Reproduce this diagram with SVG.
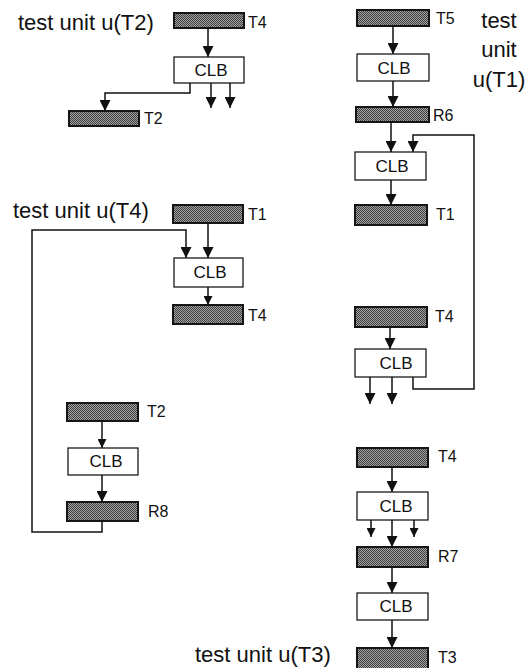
<svg xmlns="http://www.w3.org/2000/svg" width="529" height="668" viewBox="0 0 529 668">
<defs>
<pattern id="dots" width="2" height="2" patternUnits="userSpaceOnUse">
<rect width="2" height="2" fill="#a2a2a2"/>
<rect x="0" y="0" width="1" height="1" fill="#404040"/>
<rect x="1" y="1" width="1" height="1" fill="#404040"/>
</pattern>
<marker id="ah" viewBox="0 0 10 10" refX="10" refY="5" markerWidth="12" markerHeight="11" markerUnits="userSpaceOnUse" orient="auto">
<path d="M0,0 L10,5 L0,10 Z" fill="#111"/>
</marker>
<marker id="ahs" viewBox="0 0 10 10" refX="10" refY="5" markerWidth="11" markerHeight="9" markerUnits="userSpaceOnUse" orient="auto">
<path d="M0,0 L10,5 L0,10 Z" fill="#111"/>
</marker>
</defs>
<style>
.bar{fill:url(#dots);stroke:#151515;stroke-width:2}
.clb{fill:#fff;stroke:#1a1a1a;stroke-width:1.3}
.ct{font-family:"Liberation Sans",Arial,sans-serif;font-size:17px;fill:#111;text-anchor:middle}
.lb{font-family:"Liberation Sans",Arial,sans-serif;font-size:16px;fill:#111}
.tt{font-family:"Liberation Sans",Arial,sans-serif;font-size:22px;fill:#111}
.c line,.c path{fill:none;stroke:#111;stroke-width:1.5}
.a{marker-end:url(#ah)}
.s{marker-end:url(#ahs)}
</style>

<g id="title-u-T2"><text class="tt" x="18" y="30">test unit u(T2)</text></g>
<g id="title-u-T4"><text class="tt" x="13" y="218">test unit u(T4)</text></g>
<g id="title-u-T3"><text class="tt" x="195" y="662">test unit u(T3)</text></g>
<g id="title-u-T1">
<text class="tt" x="499" y="28" text-anchor="middle">test</text>
<text class="tt" x="499" y="57" text-anchor="middle">unit</text>
<text class="tt" x="499" y="87" text-anchor="middle">u(T1)</text>
</g>

<!-- unit u(T2) -->
<g id="a-T4"><rect class="bar" x="174" y="13" width="70" height="15"/><text class="lb" x="248" y="28">T4</text></g>
<g id="a-CLB"><rect class="clb" x="174" y="57" width="70" height="26"/><text class="ct" x="211" y="76">CLB</text></g>
<g id="a-T2"><rect class="bar" x="69" y="111" width="70" height="15"/><text class="lb" x="144" y="124">T2</text></g>

<!-- unit u(T4) -->
<g id="b-T1"><rect class="bar" x="173" y="205" width="70" height="18"/><text class="lb" x="248" y="220">T1</text></g>
<g id="b-CLB"><rect class="clb" x="174" y="258" width="69" height="29"/><text class="ct" x="210" y="278">CLB</text></g>
<g id="b-T4"><rect class="bar" x="173" y="305" width="70" height="19"/><text class="lb" x="248" y="321">T4</text></g>
<g id="b-T2"><rect class="bar" x="67" y="403" width="71" height="18"/><text class="lb" x="147" y="417">T2</text></g>
<g id="b-CLB2"><rect class="clb" x="68" y="448" width="70" height="27"/><text class="ct" x="106" y="467">CLB</text></g>
<g id="b-R8"><rect class="bar" x="67" y="502" width="71" height="19"/><text class="lb" x="148" y="517">R8</text></g>

<!-- unit u(T1) -->
<g id="c-T5"><rect class="bar" x="357" y="10" width="72" height="16"/><text class="lb" x="436" y="24">T5</text></g>
<g id="c-CLB1"><rect class="clb" x="357" y="54" width="72" height="27"/><text class="ct" x="394" y="74">CLB</text></g>
<g id="c-R6"><rect class="bar" x="356" y="107" width="73" height="15"/><text class="lb" x="433" y="121">R6</text></g>
<g id="c-CLB2"><rect class="clb" x="355" y="152" width="71" height="28"/><text class="ct" x="392" y="172">CLB</text></g>
<g id="c-T1"><rect class="bar" x="355" y="205" width="72" height="20"/><text class="lb" x="436" y="220">T1</text></g>
<g id="c-T4"><rect class="bar" x="355" y="307" width="72" height="20"/><text class="lb" x="435" y="322">T4</text></g>
<g id="c-CLB3"><rect class="clb" x="355" y="349" width="71" height="28"/><text class="ct" x="396" y="369">CLB</text></g>

<!-- unit u(T3) -->
<g id="d-T4"><rect class="bar" x="357" y="448" width="71" height="19"/><text class="lb" x="438" y="462">T4</text></g>
<g id="d-CLB1"><rect class="clb" x="357" y="492" width="71" height="28"/><text class="ct" x="396" y="512">CLB</text></g>
<g id="d-R7"><rect class="bar" x="357" y="547" width="71" height="20"/><text class="lb" x="438" y="562">R7</text></g>
<g id="d-CLB2"><rect class="clb" x="357" y="593" width="71" height="27"/><text class="ct" x="396" y="612">CLB</text></g>
<g id="d-T3"><rect class="bar" x="357" y="648" width="71" height="22"/><text class="lb" x="438" y="663">T3</text></g>

<g id="connectors" class="c">
<line class="a" x1="208" y1="28" x2="208" y2="57"/>
<path class="a" d="M190,83 V93 H105 V111"/>
<line class="a" x1="211" y1="83" x2="211" y2="108"/>
<line class="a" x1="230" y1="83" x2="230" y2="108"/>

<line class="a" x1="208" y1="223" x2="208" y2="258"/>
<path class="a" d="M102,521 V532 H32 V230 H186 V258"/>
<line class="s" x1="208" y1="287" x2="208" y2="305"/>
<line class="s" x1="102" y1="421" x2="102" y2="448"/>
<line class="a" x1="102" y1="475" x2="102" y2="502"/>

<line class="a" x1="393" y1="26" x2="393" y2="54"/>
<line class="a" x1="393" y1="81" x2="393" y2="107"/>
<line class="a" x1="391" y1="122" x2="391" y2="152"/>
<path class="a" d="M413,377 V389 H474 V135 H413 V152"/>
<line class="a" x1="391" y1="180" x2="391" y2="205"/>
<line class="a" x1="390" y1="327" x2="390" y2="349"/>
<line class="a" x1="370" y1="377" x2="370" y2="404"/>
<line class="a" x1="392" y1="377" x2="392" y2="404"/>

<line class="a" x1="392" y1="467" x2="392" y2="492"/>
<line class="s" x1="371" y1="520" x2="371" y2="537"/>
<line class="a" x1="392" y1="520" x2="392" y2="547"/>
<line class="s" x1="414" y1="520" x2="414" y2="537"/>
<line class="a" x1="392" y1="567" x2="392" y2="593"/>
<line class="a" x1="392" y1="620" x2="392" y2="648"/>
</g>
</svg>
